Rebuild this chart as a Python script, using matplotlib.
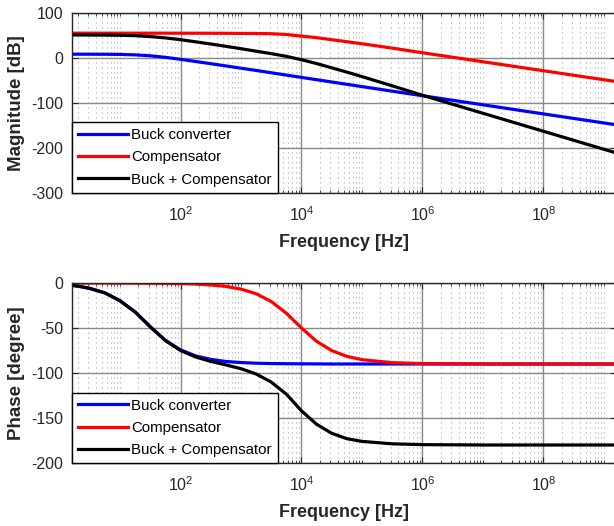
import numpy as np
import matplotlib.pyplot as plt
from matplotlib.ticker import LogLocator, FixedLocator, LogFormatterMathtext, NullFormatter

plt.rcParams['font.family'] = ['Liberation Sans', 'DejaVu Sans']
plt.rcParams['mathtext.fontset'] = 'custom'
plt.rcParams['mathtext.rm'] = 'Liberation Sans'
plt.rcParams['mathtext.it'] = 'Liberation Sans:italic'
plt.rcParams['mathtext.bf'] = 'Liberation Sans:bold'
plt.rcParams['mathtext.default'] = 'regular'
plt.rcParams['axes.unicode_minus'] = False

# frequency sample points (log10 of Hz)
freq_exp = [0.2, 0.35, 0.5, 0.75, 1.0, 1.25, 1.5, 1.75, 2.0, 2.25, 2.5, 2.75, 3.0, 3.25,
            3.5, 3.75, 4.0, 4.25, 4.5, 4.75, 5.0, 5.5, 6.0, 7.0, 8.0, 9.0, 10.0]

# magnitude [dB]
mag_buck = [7.8, 7.8, 7.75, 7.6, 7.3, 6.3, 4.2, 0.8, -3.6, -8.4, -13.3, -18.3, -23.3, -28.3,
            -33.5, -38.6, -43.8, -48.9, -54.0, -59.1, -64.2, -74.4, -84.5, -104.7, -124.9, -145.0, -165.2]
mag_comp = [54.5, 54.5, 54.5, 54.5, 54.5, 54.5, 54.5, 54.5, 54.4, 54.4, 54.3, 54.2, 54.0, 53.8,
            53.3, 51.5, 48.0, 44.5, 40.0, 35.5, 31.0, 21.3, 11.0, -9.0, -29.0, -49.0, -69.0]
mag_total = [50.5, 50.5, 50.4, 50.2, 49.8, 48.9, 47.0, 44.0, 40.0, 35.3, 30.4, 25.3, 20.0, 14.5,
             9.0, 3.0, -4.5, -13.0, -22.5, -32.0, -42.0, -62.5, -83.5, -123.5, -163.5, -203.5, -243.5]

# phase [degree]
ph_buck = [-2.5, -4.0, -6.0, -11.0, -19.7, -32.1, -48.5, -63.6, -74.3, -81.0, -84.9, -87.2, -88.4, -89.1,
           -89.5, -89.7, -89.8, -89.9, -90, -90, -90, -90, -90, -90, -90, -90, -90]
ph_comp = [0, 0, 0, 0, -0.1, -0.2, -0.3, -0.4, -0.7, -1.2, -2.2, -3.8, -6.8, -11.9,
           -20.6, -33.6, -50.0, -64.8, -75.1, -81.5, -85.2, -88.5, -89.5, -89.95, -90, -90, -90]
ph_total = [-2.5, -4.0, -6.0, -11.0, -19.8, -32.3, -48.8, -64.0, -75.0, -82.2, -87.1, -91.0, -95.2, -101.1,
            -110.1, -123.5, -142.0, -157.0, -167.0, -173.0, -176.0, -178.7, -179.6, -180, -180, -180, -180]

labels = ['Buck converter', 'Compensator', 'Buck + Compensator']
colors = ['#0000ff', '#ff0000', '#000000']

freq = 10.0 ** np.array(freq_exp)

fig = plt.figure(figsize=(6.14, 5.26), dpi=100)
W, H = 614.0, 526.0
left = 72 / W
width = (616 - 72) / W
ax1 = fig.add_axes([left, 1 - 192.7 / H, width, 180 / H])
ax2 = fig.add_axes([left, 1 - 463 / H, width, 180 / H])

dark = '#262626'


def style_axes(ax, yticks, ylim, ylabel):
    ax.set_xscale('log')
    ax.set_xlim(10 ** 0.206, 10 ** 9.2)
    ax.set_ylim(*ylim)
    ax.xaxis.set_major_locator(FixedLocator([1e2, 1e4, 1e6, 1e8]))
    ax.xaxis.set_major_formatter(LogFormatterMathtext())
    ax.xaxis.set_minor_locator(LogLocator(base=10, subs=np.arange(1, 10), numticks=200))
    ax.xaxis.set_minor_formatter(NullFormatter())
    ax.set_yticks(yticks)
    ax.grid(True, which='major', color='#8a8a8a', linewidth=1.0, linestyle='-')
    ax.grid(True, which='minor', axis='x', color='#a8a8a8', linewidth=0.8, linestyle=(0, (1, 3.5)))
    ax.set_axisbelow(True)
    ax.tick_params(which='both', direction='in', top=True, right=True, colors=dark,
                   labelsize=11.5, length=4)
    ax.tick_params(axis='x', pad=9)
    ax.tick_params(axis='y', pad=6.5)
    ax.tick_params(which='minor', length=2)
    for s in ax.spines.values():
        s.set_color(dark)
        s.set_linewidth(1.0)
    ax.set_xlabel('Frequency [Hz]', fontsize=13, fontweight='bold', color=dark, labelpad=7)
    ax.set_ylabel(ylabel, fontsize=13.5, fontweight='bold', color=dark, labelpad=4)


for vals, c, lab in zip([mag_buck, mag_comp, mag_total], colors, labels):
    ax1.plot(freq, vals, color=c, linewidth=2.3, label=lab)
for vals, c, lab in zip([ph_buck, ph_comp, ph_total], colors, labels):
    ax2.plot(freq, vals, color=c, linewidth=2.3, label=lab)

style_axes(ax1, [-300, -200, -100, 0, 100], (-300, 100), 'Magnitude [dB]')
style_axes(ax2, [-200, -150, -100, -50, 0], (-200, 0), 'Phase [degree]')

for ax in (ax1, ax2):
    leg = ax.legend(loc='lower left', bbox_to_anchor=(0, 0), borderaxespad=0,
                    fancybox=False, framealpha=1, edgecolor='#000000', fontsize=10.8,
                    handlelength=3.3, handletextpad=0.25, labelspacing=0.55, borderpad=0.4)
    leg.get_frame().set_linewidth(1.0)

fig.savefig('out.png', dpi=100)
